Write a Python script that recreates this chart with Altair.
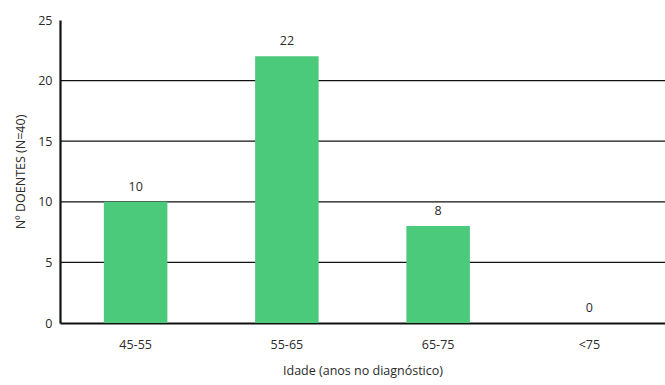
import altair as alt
import pandas as pd

# Age groups at diagnosis and number of patients in each
idade = ["45-55", "55-65", "65-75", "<75"]
doentes = [10, 22, 8, 0]

df = pd.DataFrame({"idade": idade, "doentes": doentes})

FONT = "Open Sans"
GREEN = "#4cca7c"
TEXT = "#2a2a2a"

x_enc = alt.X(
    "idade:N",
    sort=idade,
    scale=alt.Scale(paddingInner=0.58, paddingOuter=0.29),
    axis=alt.Axis(
        title="Idade (anos no diagnóstico)",
        labelAngle=0,
        ticks=False,
        domainColor="#111111",
        domainWidth=2.2,
        labelPadding=15,
        labelFontSize=12.5,
        labelColor=TEXT,
        titleFontSize=12.5,
        titleColor=TEXT,
        titleFontWeight="normal",
        titlePadding=14,
        labelFont=FONT,
        titleFont=FONT,
    ),
)

y_scale = alt.Scale(domain=[0, 25], nice=False)

bars = alt.Chart(df).mark_bar(color=GREEN).encode(
    x=x_enc,
    y=alt.Y(
        "doentes:Q",
        scale=y_scale,
        axis=alt.Axis(
            title="Nº DOENTES (N=40)",
            values=[0, 5, 10, 15, 20, 25],
            ticks=False,
            grid=False,
            domainColor="#111111",
            domainWidth=2.2,
            labelPadding=8,
            labelFontSize=12.5,
            labelColor=TEXT,
            titleFontSize=12.5,
            titleColor=TEXT,
            titleFontWeight="normal",
            titlePadding=10,
            labelFont=FONT,
            titleFont=FONT,
        ),
    ),
)

# Horizontal reference lines at 5, 10, 15 and 20
grid_df = pd.DataFrame({"v": [5, 10, 15, 20]})
grid = alt.Chart(grid_df).mark_rule(color="#111111", strokeWidth=1.2).encode(
    y=alt.Y("v:Q", scale=y_scale)
)

labels = alt.Chart(df).mark_text(
    baseline="bottom", dy=-8, fontSize=12.5, color=TEXT, font=FONT
).encode(
    x=alt.X("idade:N", sort=idade),
    y=alt.Y("doentes:Q", scale=y_scale),
    text="doentes:Q",
)

chart = (
    alt.layer(grid, bars, labels)
    .properties(
        width=605,
        height=303,
        autosize=alt.AutoSizeParams(type="none"),
        padding={"left": 60, "top": 20, "right": 0, "bottom": 62},
        background="white",
    )
    .configure_view(stroke=None)
)

chart.save("out.html", embed_options={"renderer": "svg", "actions": False})
